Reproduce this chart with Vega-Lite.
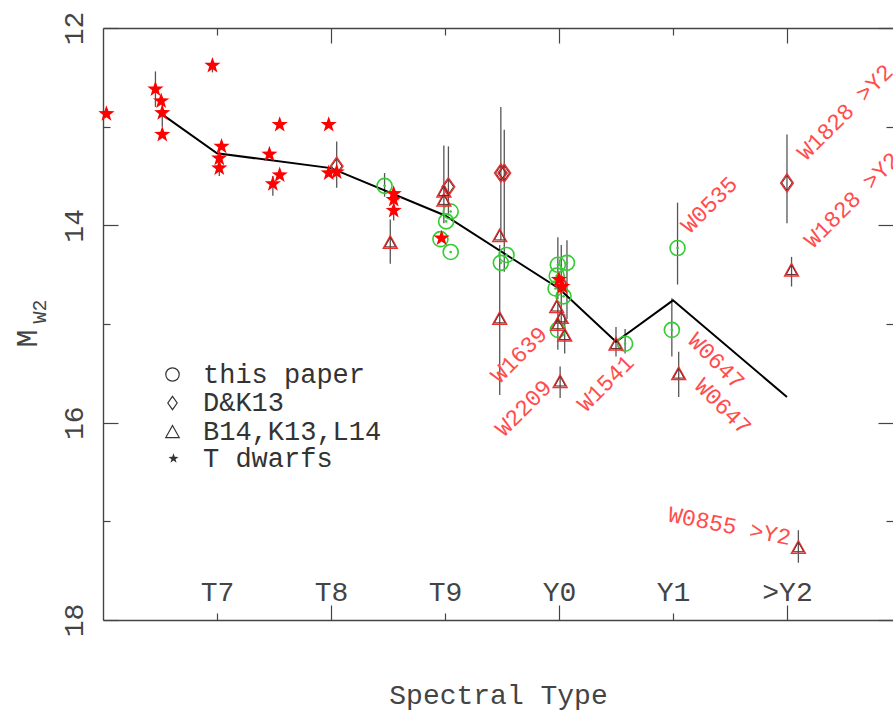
{
  "$schema": "https://vega.github.io/schema/vega-lite/v6.json",
  "width": 790,
  "height": 592,
  "autosize": {"type": "none"},
  "padding": {"left": 103, "top": 28, "right": 0, "bottom": 96},
  "background": "white",
  "config": {
    "view": {"stroke": null},
    "axis": {"grid": false, "domainColor": "#444", "domainWidth": 1.4, "tickColor": "#444", "tickWidth": 1.2, "labelFont": "Liberation Mono", "titleFont": "Liberation Mono", "titleFontWeight": "normal", "labelColor": "#444", "titleColor": "#444"},
    "legend": {"orient": "none", "title": null, "labelFont": "Liberation Mono", "labelFontSize": 27, "labelColor": "#333", "padding": 0, "rowPadding": 0.5, "labelLimit": 400}
  },
  "datasets": {
    "pts": [
      {"t": 6.03, "m": 12.87, "set": "T dwarfs"},
      {"t": 6.46, "m": 12.62, "lo": 12.44, "hi": 12.8, "set": "T dwarfs"},
      {"t": 6.51, "m": 12.74, "set": "T dwarfs"},
      {"t": 6.52, "m": 12.86, "lo": 12.7, "hi": 13.0, "set": "T dwarfs"},
      {"t": 6.52, "m": 13.08, "set": "T dwarfs"},
      {"t": 6.96, "m": 12.38, "lo": 12.33, "hi": 12.45, "set": "T dwarfs"},
      {"t": 7.04, "m": 13.2, "set": "T dwarfs"},
      {"t": 7.02, "m": 13.32, "set": "T dwarfs"},
      {"t": 7.02, "m": 13.42, "lo": 13.35, "hi": 13.5, "set": "T dwarfs"},
      {"t": 7.55, "m": 12.98, "set": "T dwarfs"},
      {"t": 7.46, "m": 13.28, "set": "T dwarfs"},
      {"t": 7.55, "m": 13.49, "set": "T dwarfs"},
      {"t": 7.49, "m": 13.58, "lo": 13.5, "hi": 13.7, "set": "T dwarfs"},
      {"t": 7.98, "m": 12.98, "set": "T dwarfs"},
      {"t": 7.98, "m": 13.47, "set": "T dwarfs"},
      {"t": 8.05, "m": 13.46, "set": "T dwarfs"},
      {"t": 8.55, "m": 13.68, "set": "T dwarfs"},
      {"t": 8.55, "m": 13.74, "set": "T dwarfs"},
      {"t": 8.55, "m": 13.85, "lo": 13.75, "hi": 13.95, "set": "T dwarfs"},
      {"t": 8.97, "m": 14.13, "set": "T dwarfs"},
      {"t": 10.0, "m": 14.55, "set": "T dwarfs"},
      {"t": 10.03, "m": 14.62, "set": "T dwarfs"},
      {"t": 8.05, "m": 13.4, "lo": 13.15, "hi": 13.62, "set": "D&K13"},
      {"t": 9.03, "m": 13.61, "lo": 13.2, "hi": 13.9, "set": "D&K13"},
      {"t": 9.49, "m": 13.47, "lo": 12.8, "hi": 14.15, "set": "D&K13"},
      {"t": 9.52, "m": 13.47, "lo": 13.03, "hi": 14.47, "set": "D&K13"},
      {"t": 10.02, "m": 14.6, "lo": 14.2, "hi": 15.0, "set": "D&K13"},
      {"t": 12.0, "m": 13.57, "lo": 13.08, "hi": 13.98, "set": "D&K13"},
      {"t": 8.52, "m": 14.17, "lo": 13.94, "hi": 14.39, "set": "B14,K13,L14"},
      {"t": 8.99, "m": 13.65, "lo": 13.19, "hi": 13.98, "set": "B14,K13,L14"},
      {"t": 8.99, "m": 13.74, "set": "B14,K13,L14"},
      {"t": 9.48, "m": 14.1, "set": "B14,K13,L14"},
      {"t": 9.48, "m": 14.94, "lo": 14.2, "hi": 15.72, "set": "B14,K13,L14"},
      {"t": 9.98, "m": 14.82, "set": "B14,K13,L14"},
      {"t": 10.02, "m": 14.93, "set": "B14,K13,L14"},
      {"t": 10.05, "m": 15.11, "lo": 14.9, "hi": 15.3, "set": "B14,K13,L14"},
      {"t": 9.99, "m": 15.0, "set": "B14,K13,L14"},
      {"t": 10.01, "m": 15.58, "lo": 15.43, "hi": 15.75, "set": "B14,K13,L14"},
      {"t": 10.5, "m": 15.2, "lo": 15.03, "hi": 15.33, "set": "B14,K13,L14"},
      {"t": 11.05, "m": 15.5, "lo": 15.28, "hi": 15.74, "set": "B14,K13,L14"},
      {"t": 12.04, "m": 14.45, "lo": 14.32, "hi": 14.62, "set": "B14,K13,L14"},
      {"t": 12.1, "m": 17.26, "lo": 17.09, "hi": 17.42, "set": "B14,K13,L14"},
      {"t": 8.47, "m": 13.6, "lo": 13.47, "hi": 13.71, "set": "this paper"},
      {"t": 9.05, "m": 13.86, "set": "this paper"},
      {"t": 9.01, "m": 13.96, "set": "this paper"},
      {"t": 8.96, "m": 14.14, "set": "this paper"},
      {"t": 9.05, "m": 14.27, "set": "this paper"},
      {"t": 9.49, "m": 14.38, "set": "this paper"},
      {"t": 9.54, "m": 14.3, "set": "this paper"},
      {"t": 9.99, "m": 14.4, "lo": 14.12, "hi": 14.75, "set": "this paper"},
      {"t": 10.07, "m": 14.38, "lo": 14.15, "hi": 14.95, "set": "this paper"},
      {"t": 9.98, "m": 14.51, "set": "this paper"},
      {"t": 9.97, "m": 14.64, "set": "this paper"},
      {"t": 10.04, "m": 14.72, "set": "this paper"},
      {"t": 9.99, "m": 15.06, "lo": 14.8, "hi": 15.26, "set": "this paper"},
      {"t": 10.58, "m": 15.2, "lo": 15.05, "hi": 15.3, "set": "this paper"},
      {"t": 11.04, "m": 14.23, "lo": 13.77, "hi": 14.6, "set": "this paper"},
      {"t": 10.99, "m": 15.06, "lo": 14.74, "hi": 15.33, "set": "this paper"}
    ],
    "rel": [
      {"t": 6.5, "m": 12.86},
      {"t": 7.0, "m": 13.27},
      {"t": 8.0, "m": 13.42},
      {"t": 9.0, "m": 13.9},
      {"t": 10.0, "m": 14.64},
      {"t": 10.5, "m": 15.18},
      {"t": 11.0, "m": 14.76},
      {"t": 12.0, "m": 15.74}
    ],
    "lbl": [
      {"name": "W1639", "t": 9.48, "m": 15.61, "dir": "up"},
      {"name": "W2209", "t": 9.52, "m": 16.15, "dir": "up"},
      {"name": "W1541", "t": 10.24, "m": 15.9, "dir": "up"},
      {"name": "W0535", "t": 11.15, "m": 14.09, "dir": "up"},
      {"name": "W1828 >Y2", "t": 12.17, "m": 13.35, "dir": "up"},
      {"name": "W1828 >Y2", "t": 12.23, "m": 14.24, "dir": "up"},
      {"name": "W0647", "t": 11.12, "m": 15.18, "dir": "down"},
      {"name": "W0647", "t": 11.18, "m": 15.64, "dir": "down"},
      {"name": "W0855 >Y2", "t": 10.95, "m": 17.0, "dir": "flat"}
    ]
  },
  "resolve": {"axis": {"x": "independent", "y": "independent"}, "scale": {"shape": "independent"}},
  "layer": [
    {
      "data": {"name": "pts"},
      "transform": [{"filter": "isValid(datum.lo)"}],
      "mark": {"type": "rule", "color": "#555", "strokeWidth": 1.3},
      "encoding": {
        "x": {"field": "t", "type": "quantitative", "scale": {"domain": [6, 12.93], "nice": false, "zero": false},
          "axis": {"orient": "bottom", "title": "Spectral Type", "values": [7, 8, 9, 10, 11, 12],
            "labelExpr": "datum.value == 7 ? 'T7' : datum.value == 8 ? 'T8' : datum.value == 9 ? 'T9' : datum.value == 10 ? 'Y0' : datum.value == 11 ? 'Y1' : '>Y2'",
            "ticks": false, "labelPadding": -20, "labelBaseline": "alphabetic", "labelFontSize": 28, "labelOverlap": false, "labelFlush": false,
            "titleFontSize": 28, "titleY": 83, "titleBaseline": "alphabetic"}},
        "y": {"field": "lo", "type": "quantitative", "scale": {"domain": [12, 18], "reverse": true, "nice": false, "zero": false},
          "axis": {"orient": "left", "values": [12, 14, 16, 18], "ticks": false, "labelAngle": 270, "labelAlign": "center", "labelBaseline": "alphabetic", "labelPadding": 21, "labelFontSize": 28, "labelOverlap": false, "labelFlush": false,
            "title": "M", "titleFontSize": 30, "titleAngle": 270, "titleAlign": "center", "titleBaseline": "alphabetic", "titleX": -67, "titleY": 310}},
        "y2": {"field": "hi"}
      }
    },
    {
      "data": {"name": "rel"},
      "mark": {"type": "line", "color": "black", "strokeWidth": 2},
      "encoding": {
        "x": {"field": "t", "type": "quantitative",
          "axis": {"orient": "bottom", "title": null, "values": [7, 8, 9, 10, 11, 12], "labels": false, "domain": false,
            "tickSize": {"condition": {"test": "datum.value % 2 === 0", "value": -15}, "value": -7}}},
        "y": {"field": "m", "type": "quantitative",
          "axis": {"orient": "left", "values": [12, 13, 14, 15, 16, 17, 18], "labels": false, "domain": false,
            "tickSize": {"condition": {"test": "datum.value % 2 === 0", "value": -15}, "value": -7},
            "title": "W2", "titleFontSize": 20, "titleAngle": 270, "titleAlign": "center", "titleBaseline": "alphabetic", "titleX": -58, "titleY": 283}}
      }
    },
    {
      "data": {"name": "pts"},
      "transform": [{"filter": "datum.set === 'this paper'"}],
      "mark": {"type": "point", "shape": "circle", "filled": false, "stroke": "#33cc33", "strokeWidth": 1.6, "size": 225, "opacity": 1},
      "encoding": {
        "x": {"field": "t", "type": "quantitative",
          "axis": {"orient": "top", "title": null, "values": [7, 8, 9, 10, 11, 12], "labels": false, "domain": true,
            "tickSize": {"condition": {"test": "datum.value % 2 === 0", "value": -15}, "value": -7}}},
        "y": {"field": "m", "type": "quantitative",
          "axis": {"orient": "right", "title": null, "values": [12, 13, 14, 15, 16, 17, 18], "labels": false, "domain": false,
            "tickSize": {"condition": {"test": "datum.value % 2 === 0", "value": -15}, "value": -7}}}
      }
    },
    {
      "data": {"name": "pts"},
      "transform": [{"filter": "datum.set === 'this paper'"}],
      "mark": {"type": "circle", "color": "#33cc33", "size": 7, "opacity": 1},
      "encoding": {
        "x": {"field": "t", "type": "quantitative", "axis": null},
        "y": {"field": "m", "type": "quantitative", "axis": null}
      }
    },
    {
      "data": {"name": "pts"},
      "transform": [{"filter": "datum.set === 'D&K13'"}],
      "mark": {"type": "point", "shape": "M0,-1L0.7,0L0,1L-0.7,0Z", "filled": false, "stroke": "#ee3030", "strokeWidth": 1.5, "size": 324, "opacity": 1},
      "encoding": {
        "x": {"field": "t", "type": "quantitative", "axis": null},
        "y": {"field": "m", "type": "quantitative", "axis": null}
      }
    },
    {
      "data": {"name": "pts"},
      "transform": [{"filter": "datum.set === 'D&K13'"}],
      "mark": {"type": "point", "shape": "M0,-1L0.7,0L0,1L-0.7,0Z", "filled": false, "stroke": "#6a2a2a", "strokeWidth": 1, "size": 210, "opacity": 1},
      "encoding": {
        "x": {"field": "t", "type": "quantitative", "axis": null},
        "y": {"field": "m", "type": "quantitative", "axis": null}
      }
    },
    {
      "data": {"name": "pts"},
      "transform": [{"filter": "datum.set === 'B14,K13,L14'"}],
      "mark": {"type": "point", "shape": "M0,-0.9L1,0.9L-1,0.9Z", "filled": false, "stroke": "#ee3030", "strokeWidth": 1.5, "size": 190, "opacity": 1},
      "encoding": {
        "x": {"field": "t", "type": "quantitative", "axis": null},
        "y": {"field": "m", "type": "quantitative", "axis": null}
      }
    },
    {
      "data": {"name": "pts"},
      "transform": [{"filter": "datum.set === 'B14,K13,L14'"}],
      "mark": {"type": "point", "shape": "M0,-0.9L1,0.9L-1,0.9Z", "filled": false, "stroke": "#6a2a2a", "strokeWidth": 1, "size": 110, "opacity": 1},
      "encoding": {
        "x": {"field": "t", "type": "quantitative", "axis": null},
        "y": {"field": "m", "type": "quantitative", "axis": null}
      }
    },
    {
      "data": {"name": "pts"},
      "transform": [{"filter": "datum.set === 'T dwarfs'"}],
      "mark": {"type": "point", "shape": "M0,-1L0.235,-0.324L0.951,-0.309L0.38,0.124L0.588,0.809L0,0.4L-0.588,0.809L-0.38,0.124L-0.951,-0.309L-0.235,-0.324Z", "filled": true, "color": "#ff0000", "size": 290, "opacity": 1},
      "encoding": {
        "x": {"field": "t", "type": "quantitative", "axis": null},
        "y": {"field": "m", "type": "quantitative", "axis": null}
      }
    },
    {
      "data": {"name": "lbl"},
      "transform": [{"filter": "datum.dir === 'up'"}],
      "mark": {"type": "text", "align": "left", "baseline": "alphabetic", "font": "Liberation Mono", "fontSize": 23, "color": "#ff4d4d", "angle": 315},
      "encoding": {
        "x": {"field": "t", "type": "quantitative", "axis": null},
        "y": {"field": "m", "type": "quantitative", "axis": null},
        "text": {"field": "name"}
      }
    },
    {
      "data": {"name": "lbl"},
      "transform": [{"filter": "datum.dir === 'down'"}],
      "mark": {"type": "text", "align": "left", "baseline": "alphabetic", "font": "Liberation Mono", "fontSize": 23, "color": "#ff4d4d", "angle": 45},
      "encoding": {
        "x": {"field": "t", "type": "quantitative", "axis": null},
        "y": {"field": "m", "type": "quantitative", "axis": null},
        "text": {"field": "name"}
      }
    },
    {
      "data": {"name": "lbl"},
      "transform": [{"filter": "datum.dir === 'flat'"}],
      "mark": {"type": "text", "align": "left", "baseline": "alphabetic", "font": "Liberation Mono", "fontSize": 23, "color": "#ff4d4d", "angle": 11},
      "encoding": {
        "x": {"field": "t", "type": "quantitative", "axis": null},
        "y": {"field": "m", "type": "quantitative", "axis": null},
        "text": {"field": "name"}
      }
    },
    {
      "data": {"name": "pts"},
      "transform": [{"filter": "false"}],
      "mark": {"type": "point", "filled": false, "stroke": "#333", "strokeWidth": 1.2, "opacity": 1},
      "encoding": {
        "x": {"field": "t", "type": "quantitative", "axis": null},
        "y": {"field": "m", "type": "quantitative", "axis": null},
        "shape": {"field": "set", "type": "nominal",
          "scale": {"domain": ["this paper", "D&K13", "B14,K13,L14"], "range": ["circle", "M0,-1L0.7,0L0,1L-0.7,0Z", "M0,-0.9L1,0.9L-1,0.9Z"]},
          "legend": {"legendX": 56, "legendY": 333, "symbolSize": 180, "labelOffset": 17, "symbolStrokeWidth": 1.2}}
      }
    },
    {
      "data": {"name": "pts"},
      "transform": [{"filter": "false"}],
      "mark": {"type": "point", "filled": true, "color": "#333", "opacity": 1},
      "encoding": {
        "x": {"field": "t", "type": "quantitative", "axis": null},
        "y": {"field": "m", "type": "quantitative", "axis": null},
        "shape": {"field": "set", "type": "nominal",
          "scale": {"domain": ["T dwarfs"], "range": ["M0,-1L0.235,-0.324L0.951,-0.309L0.38,0.124L0.588,0.809L0,0.4L-0.588,0.809L-0.38,0.124L-0.951,-0.309L-0.235,-0.324Z"]},
          "legend": {"legendX": 57, "legendY": 417, "symbolSize": 110, "labelOffset": 16}}
      }
    }
  ]
}
